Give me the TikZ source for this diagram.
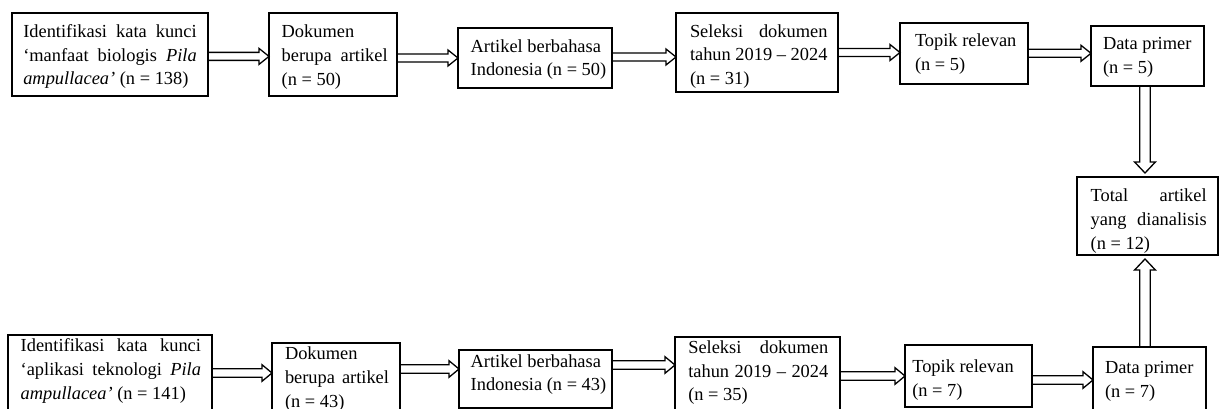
\documentclass[tikz,border=0pt]{standalone}
\usepackage{fontspec}
\setmainfont{Liberation Serif}
\usetikzlibrary{calc}
\tikzset{
  box/.style={draw, line width=1.5pt, inner sep=0pt, outer sep=0pt, anchor=north west},
  arr/.style={draw, line width=1.3pt, line join=miter},
}
% #1 width, #2 height, #3 left pad, #4 right pad, #5 top pad, #6 text
\newcommand{\bxt}[6]{\parbox[c][#2][t]{#1}{\fontsize{18.4pt}{23.7pt}\selectfont
  \leftskip=#3\relax\rightskip=#4\relax\parindent=0pt\vspace*{#5}\strut #6\par}}
% #1 shaft half width, #2 head half width, #3 head length, #4 start, #5 tip
\newcommand{\blockarrow}[5]{%
  \draw[arr] ($(#4)!#1!90:(#5)$)
    -- ($($(#5)!#3!(#4)$)!#1!90:(#5)$)
    -- ($($(#5)!#3!(#4)$)!#2!90:(#5)$)
    -- (#5)
    -- ($($(#5)!#3!(#4)$)!#2!-90:(#5)$)
    -- ($($(#5)!#3!(#4)$)!#1!-90:(#5)$)
    -- ($(#4)!#1!-90:(#5)$) -- cycle;}
\begin{document}
\begin{tikzpicture}[x=1pt,y=-1pt]
\useasboundingbox (0,0) rectangle (1219,409);
% top row
\node[box] (t1) at (12,13) {\bxt{196pt}{83pt}{11.3pt}{11.3pt}{7.9pt}{Identifikasi kata kunci\linebreak ‘manfaat biologis \textit{Pila}\linebreak \textit{ampullacea’} (n = 138)}};
\node[box] (t2) at (269,13) {\bxt{128pt}{83pt}{12.7pt}{9.3pt}{8.1pt}{Dokumen\\ berupa artikel\linebreak (n = 50)}};
\node[box] (t3) at (458,28) {\bxt{154pt}{60pt}{12.7pt}{5pt}{7.7pt}{Artikel berbahasa\\ Indonesia (n = 50)}};
\node[box] (t4) at (676,13) {\bxt{162pt}{79pt}{14pt}{10.5pt}{7.7pt}{Seleksi dokumen\linebreak tahun 2019 – 2024\linebreak (n = 31)}};
\node[box] (t5) at (900,23) {\bxt{128pt}{61pt}{15pt}{5pt}{7.1pt}{Topik relevan\\ (n = 5)}};
\node[box] (t6) at (1091,26) {\bxt{113pt}{60pt}{12pt}{5pt}{7.4pt}{Data primer\\ (n = 5)}};
% total
\node[box] (tot) at (1077,177) {\bxt{141pt}{78pt}{13.7pt}{11.3pt}{8.1pt}{Total artikel\linebreak yang dianalisis\linebreak (n = 12)}};
% bottom row
\node[box] (b1) at (8,335) {\bxt{204pt}{83pt}{12.7pt}{11pt}{0.4pt}{Identifikasi kata kunci\linebreak ‘aplikasi teknologi \textit{Pila}\linebreak \textit{ampullacea’} (n = 141)}};
\node[box] (b2) at (272,343) {\bxt{128pt}{83pt}{13pt}{11pt}{0.1pt}{Dokumen\\ berupa artikel\linebreak (n = 43)}};
\node[box] (b3) at (459,350) {\bxt{153pt}{58pt}{11.7pt}{5pt}{0.7pt}{Artikel berbahasa\\ Indonesia (n = 43)}};
\node[box] (b4) at (675,337) {\bxt{165pt}{83pt}{13.3pt}{11.7pt}{0pt}{Seleksi dokumen\linebreak tahun 2019 – 2024\linebreak (n = 35)}};
\node[box] (b5) at (905,345) {\bxt{127pt}{62pt}{7.3pt}{5pt}{11.4pt}{Topik relevan\\ (n = 7)}};
\node[box] (b6) at (1093,347) {\bxt{113pt}{83pt}{12pt}{5pt}{10pt}{Data primer\\ (n = 7)}};
% arrow end points
\coordinate (a1s) at (t1.east |- 0,56.4); \coordinate (a1e) at (t2.west |- 0,56.4);
\coordinate (a2s) at (t2.east |- 0,58); \coordinate (a2e) at (t3.west |- 0,58);
\coordinate (a3s) at (t3.east |- 0,57); \coordinate (a3e) at (t4.west |- 0,57);
\coordinate (a4s) at (t4.east |- 0,52.5); \coordinate (a4e) at (t5.west |- 0,52.5);
\coordinate (a5s) at (t5.east |- 0,53.3); \coordinate (a5e) at (t6.west |- 0,53.3);
\coordinate (c1s) at (b1.east |- 0,373); \coordinate (c1e) at (b2.west |- 0,373);
\coordinate (c2s) at (b2.east |- 0,369); \coordinate (c2e) at (b3.west |- 0,369);
\coordinate (c3s) at (b3.east |- 0,365); \coordinate (c3e) at (b4.west |- 0,365);
\coordinate (c4s) at (b4.east |- 0,376); \coordinate (c4e) at (b5.west |- 0,376);
\coordinate (c5s) at (b5.east |- 0,380); \coordinate (c5e) at (b6.west |- 0,380);
\coordinate (v1s) at (t6.south -| 1145,0); \coordinate (v1e) at ($(tot.north -| 1145,0)+(0,-4)$);
\coordinate (v2s) at (b6.north -| 1145,0); \coordinate (v2e) at ($(tot.south -| 1145,0)+(0,4)$);
% arrows
\blockarrow{4pt}{8pt}{10pt}{a1s}{a1e}
\blockarrow{4pt}{8pt}{10pt}{a2s}{a2e}
\blockarrow{4pt}{8pt}{10pt}{a3s}{a3e}
\blockarrow{4pt}{8pt}{10pt}{a4s}{a4e}
\blockarrow{4pt}{8pt}{10pt}{a5s}{a5e}
\blockarrow{4.3pt}{8.3pt}{10pt}{c1s}{c1e}
\blockarrow{4.3pt}{8.3pt}{10pt}{c2s}{c2e}
\blockarrow{4.3pt}{8.3pt}{10pt}{c3s}{c3e}
\blockarrow{4.3pt}{8.3pt}{10pt}{c4s}{c4e}
\blockarrow{4.3pt}{8.3pt}{10pt}{c5s}{c5e}
\blockarrow{5.3pt}{10.4pt}{11pt}{v1s}{v1e}
\blockarrow{5.3pt}{10.4pt}{11pt}{v2s}{v2e}
\end{tikzpicture}
\end{document}
